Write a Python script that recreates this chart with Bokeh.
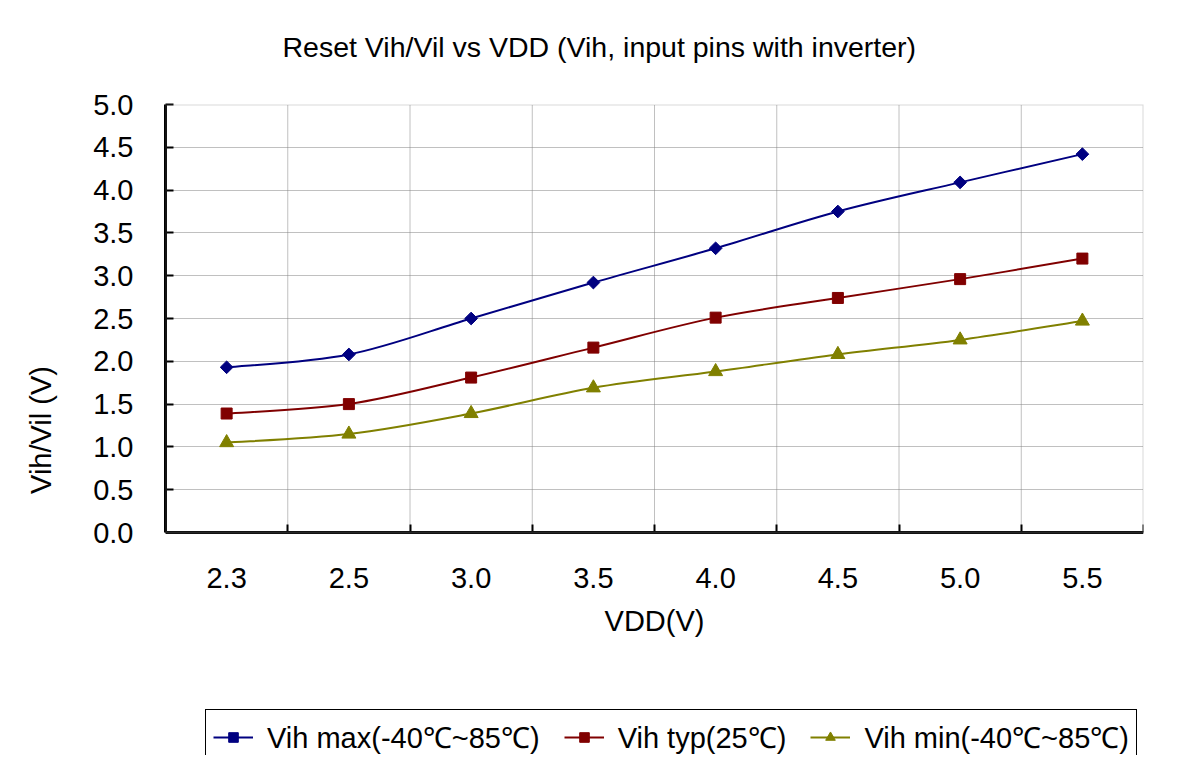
import math
from bokeh.plotting import figure
from bokeh.models import (ColumnDataSource, LinearAxis, FixedTicker, Legend, LegendItem,
                          Title, Range1d, Grid, BoxAnnotation)
from bokeh.embed import file_html
from bokeh.resources import INLINE

# ---- data ----
vdd = ["2.3", "2.5", "3.0", "3.5", "4.0", "4.5", "5.0", "5.5"]
vih_max = [1.93, 2.08, 2.50, 2.92, 3.32, 3.75, 4.09, 4.42]
vih_typ = [1.39, 1.50, 1.81, 2.16, 2.51, 2.74, 2.96, 3.20]
vih_min = [1.05, 1.15, 1.39, 1.69, 1.88, 2.08, 2.25, 2.47]
y_ticks = [0.0, 0.5, 1.0, 1.5, 2.0, 2.5, 3.0, 3.5, 4.0, 4.5, 5.0]

labels = ["Vih max(-40\u2103~85\u2103)", "Vih typ(25\u2103)", "Vih min(-40\u2103~85\u2103)"]
colors = ["#000080", "#800000", "#808000"]
markers = ["square", "square", "triangle"]
angles = [math.pi / 4, 0.0, 0.0]
msizes = [9, 11, 14]

FONT = "Liberation Sans"
Y_MAX = y_ticks[-1]
N = len(vdd)

xs = [i + 0.5 for i in range(N)]

# layout: plot area 978 x 428 px; the frame is extended downwards to hold the legend
W, H = 1178, 755
LEFT, TOP, RIGHT = 165, 104, 35
PLOT_H = 428
px_per_unit = PLOT_H / Y_MAX
y_bottom = -(H - TOP - PLOT_H) / px_per_unit

p = figure(width=W, height=H, output_backend="svg", toolbar_location=None,
           x_range=Range1d(0, N), y_range=Range1d(y_bottom, Y_MAX),
           x_axis_type=None, y_axis_type=None,
           min_border_left=LEFT, min_border_top=TOP, min_border_right=RIGHT, min_border_bottom=0)
p.background_fill_color = "white"
p.border_fill_color = "white"
p.outline_line_color = None

# spacer between plot area and title
spacer = LinearAxis(ticker=FixedTicker(ticks=[N / 2]), major_label_overrides={N / 2: ""},
                    major_label_text_font_size="0px", major_label_standoff=0,
                    major_tick_in=0, major_tick_out=37, major_tick_line_color=None,
                    minor_tick_line_color=None, axis_line_color=None)
p.add_layout(spacer, "above")

# title
t = Title(text="Reset Vih/Vil vs VDD (Vih, input pins with inverter)", align="left",
          offset=117, text_font=FONT, text_font_size="28.5px", text_font_style="normal",
          text_color="black", standoff=10)
p.add_layout(t, "above")

# grid lines inside the plot area
p.add_layout(Grid(dimension=1, ticker=FixedTicker(ticks=y_ticks[1:-1]),
                  grid_line_color="#808080", grid_line_width=1, grid_line_dash="1 1"))
p.segment(x0=list(range(1, N)), x1=list(range(1, N)), y0=[0] * (N - 1), y1=[Y_MAX] * (N - 1),
          line_color="#808080", line_width=1, line_dash="1 1")
# gray top / right border of the plot area
p.add_layout(BoxAnnotation(left=0, right=N, bottom=0, top=Y_MAX, fill_color=None,
                           line_color="#808080", line_width=2))

# y axis
yax = LinearAxis(ticker=FixedTicker(ticks=y_ticks), bounds=(0, Y_MAX),
                 major_label_overrides={v: f"{v:.1f}" for v in y_ticks},
                 axis_label="Vih/Vil (V)", axis_label_text_font=FONT,
                 axis_label_text_font_size="29px", axis_label_text_font_style="normal",
                 axis_label_text_color="black", major_label_text_color="black",
                 axis_label_standoff=33,
                 major_label_text_font=FONT, major_label_text_font_size="29px",
                 major_label_standoff=32, major_tick_in=8, major_tick_out=0,
                 major_tick_line_width=2, minor_tick_line_color=None,
                 axis_line_width=3, axis_line_color="black")
p.add_layout(yax, "left")

# x axis: tick marks at category boundaries (fixed at y = 0)
xax_ticks = LinearAxis(fixed_location=0, bounds=(0, N),
                       ticker=FixedTicker(ticks=list(range(N + 1))),
                       major_label_overrides={i: "" for i in range(N + 1)},
                       major_label_text_font_size="0px", major_label_standoff=0,
                       major_tick_in=8, major_tick_out=0, major_tick_line_width=2,
                       minor_tick_line_color=None, axis_line_width=3, axis_line_color="black")
p.add_layout(xax_ticks, "below")

# x axis: category labels at centers
xax = LinearAxis(fixed_location=0, bounds=(0, N),
                 ticker=FixedTicker(ticks=xs),
                 major_label_overrides={x: lab for x, lab in zip(xs, vdd)},
                 major_label_text_font=FONT, major_label_text_font_size="29px",
                 major_label_text_color="black", axis_label_text_color="black",
                 major_label_standoff=29, major_tick_line_color=None, minor_tick_line_color=None,
                 axis_line_color=None,
                 axis_label="VDD(V)", axis_label_text_font=FONT,
                 axis_label_text_font_size="29px", axis_label_text_font_style="normal",
                 axis_label_standoff=14)
p.add_layout(xax, "below")


def smooth_segments(x, y):
    n = len(x)
    d = dict(x0=[], y0=[], x1=[], y1=[], cx0=[], cy0=[], cx1=[], cy1=[])
    for i in range(n - 1):
        im = max(i - 1, 0)
        ip2 = min(i + 2, n - 1)
        d["x0"].append(x[i]); d["y0"].append(y[i])
        d["x1"].append(x[i + 1]); d["y1"].append(y[i + 1])
        d["cx0"].append(x[i] + (x[i + 1] - x[im]) / 6.0)
        d["cy0"].append(y[i] + (y[i + 1] - y[im]) / 6.0)
        d["cx1"].append(x[i + 1] - (x[ip2] - x[i]) / 6.0)
        d["cy1"].append(y[i + 1] - (y[ip2] - y[i]) / 6.0)
    return d


items = []
for ys, lab, col, mk, ang, ms in zip([vih_max, vih_typ, vih_min], labels, colors, markers, angles, msizes):
    bez = p.bezier(x0="x0", y0="y0", x1="x1", y1="y1", cx0="cx0", cy0="cy0", cx1="cx1", cy1="cy1",
                   source=ColumnDataSource(smooth_segments(xs, ys)), line_color=col, line_width=2)
    sc = p.scatter(x=xs, y=ys, marker=mk, angle=ang, size=ms, fill_color=col, line_color=col)
    items.append(LegendItem(label=lab, renderers=[bez, sc]))

legend = Legend(items=items, orientation="horizontal", location=(40, -9),
                label_text_font=FONT, label_text_font_size="29px", label_text_color="black",
                border_line_color="black", border_line_width=1, border_line_alpha=1,
                glyph_width=40, glyph_height=24, spacing=24, label_standoff=14,
                padding=7, margin=0)
p.add_layout(legend, "center")

open("out.html", "w").write(file_html(p, INLINE))
